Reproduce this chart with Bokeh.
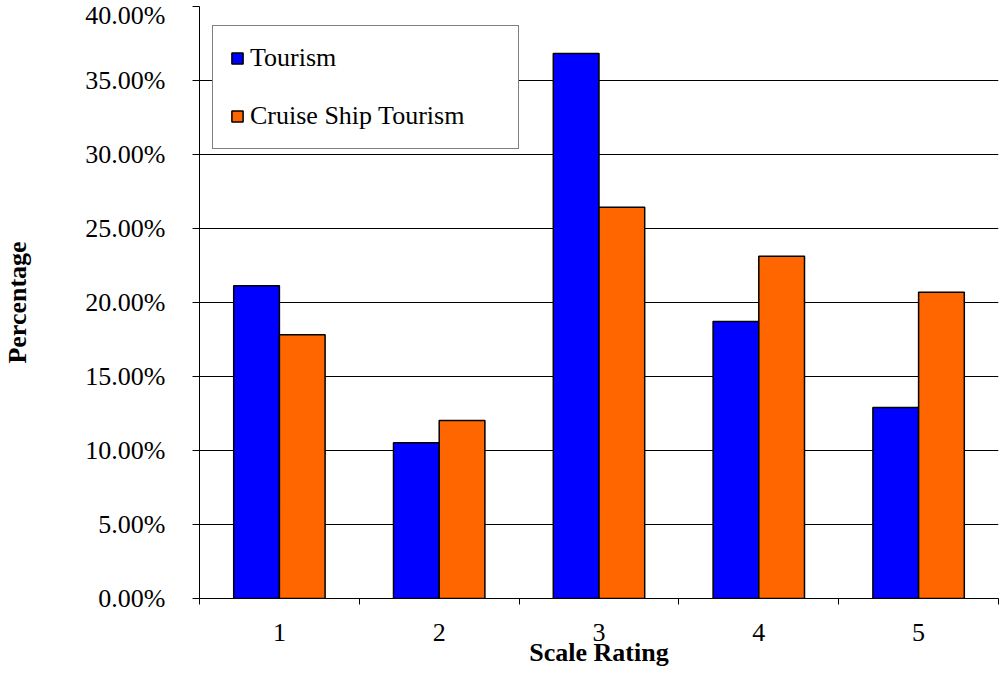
from bokeh.plotting import figure
from bokeh.models import ColumnDataSource, Range1d, FixedTicker, PrintfTickFormatter, Legend, LegendItem
from bokeh.transform import dodge
from bokeh.embed import file_html
from bokeh.resources import INLINE

ratings = [1, 2, 3, 4, 5]
tourism = [21.13, 10.52, 36.82, 18.72, 12.90]
cruise = [17.82, 12.02, 26.43, 23.12, 20.70]
y_ticks = [0, 5, 10, 15, 20, 25, 30, 35, 40]

FONT = "'Liberation Serif', 'Times New Roman', serif"

src = ColumnDataSource(dict(x=ratings, tourism=tourism, cruise=cruise))

p = figure(width=1000, height=669, output_backend="svg", toolbar_location=None,
           x_range=Range1d(0.5, 5.5), y_range=Range1d(0, 40),
           min_border_left=193, min_border_right=2, min_border_top=6, min_border_bottom=0)
p.outline_line_color = None
p.background_fill_color = "white"
p.border_fill_color = "white"

r1 = p.vbar(x=dodge("x", -0.143, range=p.x_range), top="tourism", width=0.286, source=src,
            fill_color="#0000FF", line_color="black", line_width=1.5)
r2 = p.vbar(x=dodge("x", 0.143, range=p.x_range), top="cruise", width=0.286, source=src,
            fill_color="#FF6600", line_color="black", line_width=1.5)

# axes
p.xaxis.ticker = FixedTicker(ticks=ratings, minor_ticks=[r - 0.5 for r in ratings] + [ratings[-1] + 0.5])
p.xaxis.major_tick_out = 0
p.xaxis.major_tick_in = 0
p.xaxis.minor_tick_out = 6
p.xaxis.minor_tick_in = 0
p.xaxis.minor_tick_line_color = "black"
p.xaxis.major_label_standoff = 19
p.xaxis.axis_label = "Scale Rating"
p.xaxis.axis_label_standoff = -6

p.yaxis.ticker = FixedTicker(ticks=y_ticks)
p.yaxis.formatter = PrintfTickFormatter(format="%.2f%%")
p.yaxis.major_tick_out = 7
p.yaxis.major_tick_in = 0
p.yaxis.minor_tick_out = 0
p.yaxis.minor_tick_in = 0
p.yaxis.major_label_standoff = 27
p.yaxis.axis_label = "Percentage"
p.yaxis.axis_label_standoff = 50

for ax in (p.xaxis[0], p.yaxis[0]):
    ax.axis_line_color = "black"
    ax.axis_line_width = 1
    ax.major_tick_line_color = "black"
    ax.major_label_text_font = FONT
    ax.major_label_text_font_size = "26px"
    ax.major_label_text_color = "black"
    ax.axis_label_text_font = FONT
    ax.axis_label_text_font_size = "26px"
    ax.axis_label_text_font_style = "bold"
    ax.axis_label_text_color = "black"

p.xgrid.grid_line_color = None
p.ygrid.ticker = FixedTicker(ticks=y_ticks)
p.ygrid.grid_line_color = "black"
p.ygrid.grid_line_width = 1

legend = Legend(items=[LegendItem(label="Tourism", renderers=[r1]),
                       LegendItem(label="Cruise Ship Tourism", renderers=[r2])],
                location=(13, 449))
legend.margin = 0
legend.padding = 17
legend.spacing = 28
legend.glyph_width = 14
legend.glyph_height = 14
legend.label_standoff = 6
legend.label_width = 251
legend.label_text_font = FONT
legend.label_text_font_size = "26px"
legend.label_text_color = "black"
legend.border_line_color = "black"
legend.border_line_width = 1
legend.background_fill_alpha = 1
p.add_layout(legend)

open("out.html", "w").write(file_html(p, INLINE))
